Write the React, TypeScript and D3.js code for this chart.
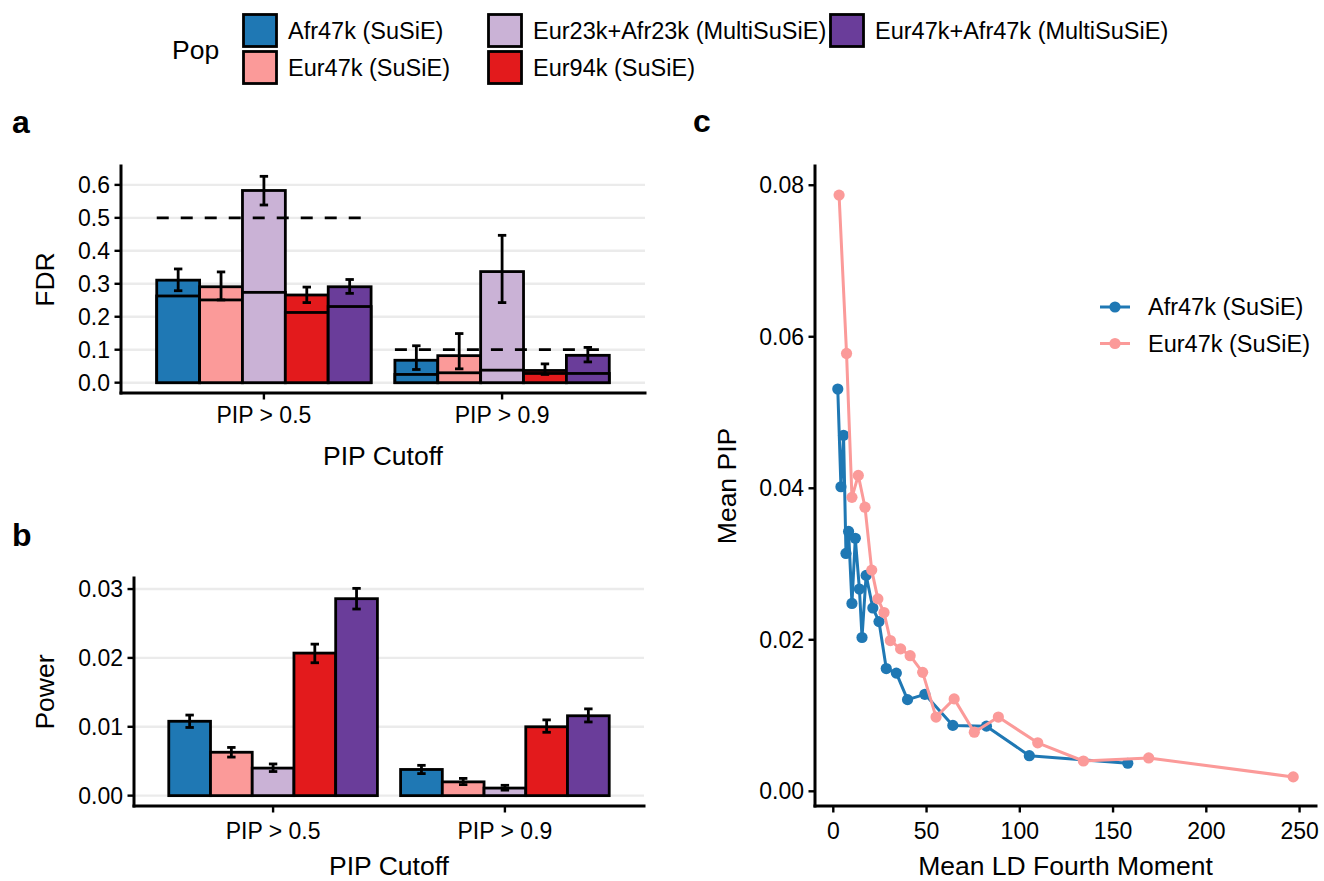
import React from "react";
import * as d3 from "d3";

const FONT = "'Liberation Sans', Arial, Helvetica, sans-serif";

const pops = [
  "Afr47k (SuSiE)",
  "Eur47k (SuSiE)",
  "Eur23k+Afr23k (MultiSuSiE)",
  "Eur94k (SuSiE)",
  "Eur47k+Afr47k (MultiSuSiE)",
];
const popColors = ["#1F78B4", "#FB9A99", "#CAB2D6", "#E31A1C", "#6A3D9A"];
const cutoffs = ["PIP > 0.5", "PIP > 0.9"];
const fdrTargets = [0.5, 0.1];

// FDR (panel a)
const fdrMean05 = [0.311, 0.291, 0.583, 0.266, 0.291];
const fdrInner05 = [0.263, 0.251, 0.274, 0.213, 0.231];
const fdrLo05 = [0.279, 0.251, 0.539, 0.243, 0.271];
const fdrHi05 = [0.345, 0.336, 0.626, 0.29, 0.313];
const fdrMean09 = [0.068, 0.082, 0.337, 0.037, 0.083];
const fdrInner09 = [0.025, 0.03, 0.038, 0.028, 0.028];
const fdrLo09 = [0.04, 0.042, 0.243, 0.025, 0.063];
const fdrHi09 = [0.112, 0.149, 0.447, 0.057, 0.107];
const fdrTicks = [0, 0.1, 0.2, 0.3, 0.4, 0.5, 0.6];

// Power (panel b)
const powMean05 = [0.0108, 0.0063, 0.004, 0.0207, 0.0286];
const powLo05 = [0.0099, 0.0056, 0.0035, 0.0193, 0.0271];
const powHi05 = [0.0117, 0.007, 0.0046, 0.022, 0.0301];
const powMean09 = [0.0038, 0.002, 0.0011, 0.01, 0.0116];
const powLo09 = [0.0032, 0.0016, 0.0008, 0.0092, 0.0107];
const powHi09 = [0.0044, 0.0025, 0.0015, 0.011, 0.0126];
const powTicks = [0, 0.01, 0.02, 0.03];

// Panel c
const afrX = [2.4, 4.1, 5.5, 6.8, 8.2, 10.0, 11.8, 14.0, 15.4, 17.6, 21.2, 24.5, 28.4, 33.8, 39.8, 49.1, 64.1, 82.1, 105.1, 157.9];
const afrY = [0.0531, 0.0402, 0.047, 0.0314, 0.0343, 0.0248, 0.0334, 0.0267, 0.0203, 0.0285, 0.0242, 0.0224, 0.0162, 0.0156, 0.0121, 0.0128, 0.0087, 0.0086, 0.0047, 0.0037];
const eurX = [3.1, 7.1, 10.0, 13.4, 17.0, 20.6, 23.9, 27.2, 30.6, 36.1, 41.2, 47.9, 55.1, 64.8, 75.6, 88.5, 109.6, 134.1, 169.1, 246.6];
const eurY = [0.0787, 0.0578, 0.0388, 0.0417, 0.0375, 0.0292, 0.0254, 0.0236, 0.0199, 0.0188, 0.0179, 0.0157, 0.0098, 0.0122, 0.0078, 0.0098, 0.0064, 0.004, 0.0044, 0.0019];
const cXTicks = [0, 50, 100, 150, 200, 250];
const cYTicks = [0, 0.02, 0.04, 0.06, 0.08];
const cSeries = ["Afr47k (SuSiE)", "Eur47k (SuSiE)"];
const cColors = ["#1F78B4", "#FB9A99"];

const TICK = 23;
const LEG = 23.5;
const TITLE = 26.5;
const LW = 2.8;

type BarProps = {
  left: number; right: number; top: number; bottom: number;
  means: number[][]; inners?: number[][]; los: number[][]; his: number[][];
  targets?: number[]; ticks: number[]; fmt: (v: number) => string;
  yTitle: string; yTitleX: number; labelOff: number; titleOff: number;
};

function BarPanel(p: BarProps) {
  const x = d3.scaleLinear().domain([0.4, 2.6]).range([p.left, p.right]);
  const yMax = d3.max(p.his.flat()) as number;
  const pad = yMax * 0.05;
  const y = d3.scaleLinear().domain([-pad, yMax + pad]).range([p.bottom, p.top]);
  const bw = 0.18;
  const capHalf = 4.2;
  return (
    <g>
      {p.ticks.map((t) => (
        <line key={"g" + t} x1={p.left} x2={p.right} y1={y(t)} y2={y(t)} stroke="#EBEBEB" strokeWidth={2.4} />
      ))}
      {cutoffs.map((c, gi) =>
        pops.map((pop, j) => {
          const x0 = x(gi + 1 + (j - 2.5) * bw);
          const x1 = x(gi + 1 + (j - 1.5) * bw);
          const m = p.means[gi][j];
          return (
            <g key={c + pop}>
              <rect x={x0} y={y(m)} width={x1 - x0} height={y(0) - y(m)} fill={popColors[j]} stroke="#000" strokeWidth={LW} />
              {p.inners && (
                <rect x={x0} y={y(p.inners[gi][j])} width={x1 - x0} height={y(0) - y(p.inners[gi][j])} fill={popColors[j]} stroke="#000" strokeWidth={LW} />
              )}
            </g>
          );
        })
      )}
      {p.targets &&
        p.targets.map((t, gi) => (
          <line key={"d" + gi} x1={x(gi + 1 - 0.45)} x2={x(gi + 1 + 0.45)} y1={y(t)} y2={y(t)} stroke="#000" strokeWidth={LW} strokeDasharray="12,12" />
        ))}
      {cutoffs.map((c, gi) =>
        pops.map((pop, j) => {
          const cx = x(gi + 1 + (j - 2) * bw);
          const lo = y(p.los[gi][j]);
          const hi = y(p.his[gi][j]);
          return (
            <g key={"e" + c + pop} stroke="#000" strokeWidth={LW}>
              <line x1={cx} x2={cx} y1={lo} y2={hi} />
              <line x1={cx - capHalf} x2={cx + capHalf} y1={lo} y2={lo} />
              <line x1={cx - capHalf} x2={cx + capHalf} y1={hi} y2={hi} />
            </g>
          );
        })
      )}
      <line x1={p.left} x2={p.left} y1={p.top} y2={p.bottom} stroke="#000" strokeWidth={3} strokeLinecap="square" />
      <line x1={p.left} x2={p.right} y1={p.bottom} y2={p.bottom} stroke="#000" strokeWidth={3} strokeLinecap="square" />
      {p.ticks.map((t) => (
        <g key={"t" + t}>
          <line x1={p.left - 6.5} x2={p.left} y1={y(t)} y2={y(t)} stroke="#000" strokeWidth={2.4} />
          <text x={p.left - 11} y={y(t)} dy="0.35em" textAnchor="end" fontSize={TICK} fontFamily={FONT} fill="#000">
            {p.fmt(t)}
          </text>
        </g>
      ))}
      {cutoffs.map((c, gi) => (
        <g key={"xt" + c}>
          <line x1={x(gi + 1)} x2={x(gi + 1)} y1={p.bottom} y2={p.bottom + 6.5} stroke="#000" strokeWidth={2.4} />
          <text x={x(gi + 1)} y={p.bottom + p.labelOff} dy="0.35em" textAnchor="middle" fontSize={TICK} fontFamily={FONT} fill="#000">
            {c}
          </text>
        </g>
      ))}
      <text x={(p.left + p.right) / 2} y={p.bottom + p.titleOff} dy="0.35em" textAnchor="middle" fontSize={TITLE} fontFamily={FONT} fill="#000">
        PIP Cutoff
      </text>
      <text transform={`translate(${p.yTitleX},${(p.top + p.bottom) / 2}) rotate(-90)`} dy="0.35em" textAnchor="middle" fontSize={TITLE} fontFamily={FONT} fill="#000">
        {p.yTitle}
      </text>
    </g>
  );
}

function LinePanel() {
  const left = 815, right = 1316, top = 166, bottom = 806;
  const allX = afrX.concat(eurX);
  const allY = afrY.concat(eurY);
  const [xmin, xmax] = d3.extent(allX) as [number, number];
  const [ymin, ymax] = d3.extent(allY) as [number, number];
  const xp = (xmax - xmin) * 0.05;
  const yp = (ymax - ymin) * 0.05;
  const x = d3.scaleLinear().domain([xmin - xp, xmax + xp]).range([left, right]);
  const y = d3.scaleLinear().domain([ymin - yp, ymax + yp]).range([bottom, top]);
  const line = d3.line<[number, number]>().x((d) => x(d[0])).y((d) => y(d[1]));
  const series = [
    afrX.map((v, i) => [v, afrY[i]] as [number, number]),
    eurX.map((v, i) => [v, eurY[i]] as [number, number]),
  ];
  return (
    <g>
      {series.map((s, si) => (
        <g key={"s" + si}>
          <path d={line(s.slice().sort((a, b) => a[0] - b[0])) || ""} fill="none" stroke={cColors[si]} strokeWidth={3} strokeLinejoin="round" />
          {s.map((d, i) => (
            <circle key={i} cx={x(d[0])} cy={y(d[1])} r={5.6} fill={cColors[si]} />
          ))}
        </g>
      ))}
      <line x1={left} x2={left} y1={top} y2={bottom} stroke="#000" strokeWidth={3} strokeLinecap="square" />
      <line x1={left} x2={right} y1={bottom} y2={bottom} stroke="#000" strokeWidth={3} strokeLinecap="square" />
      {cYTicks.map((t) => (
        <g key={"y" + t}>
          <line x1={left - 6.5} x2={left} y1={y(t)} y2={y(t)} stroke="#000" strokeWidth={2.4} />
          <text x={left - 11} y={y(t)} dy="0.35em" textAnchor="end" fontSize={TICK} fontFamily={FONT} fill="#000">
            {d3.format(".2f")(t)}
          </text>
        </g>
      ))}
      {cXTicks.map((t) => (
        <g key={"x" + t}>
          <line x1={x(t)} x2={x(t)} y1={bottom} y2={bottom + 6.5} stroke="#000" strokeWidth={2.4} />
          <text x={x(t)} y={bottom + 25} dy="0.35em" textAnchor="middle" fontSize={TICK} fontFamily={FONT} fill="#000">
            {t}
          </text>
        </g>
      ))}
      <text x={(left + right) / 2} y={bottom + 60} dy="0.35em" textAnchor="middle" fontSize={TITLE} fontFamily={FONT} fill="#000">
        Mean LD Fourth Moment
      </text>
      <text transform={`translate(727,${(top + bottom) / 2}) rotate(-90)`} dy="0.35em" textAnchor="middle" fontSize={TITLE} fontFamily={FONT} fill="#000">
        Mean PIP
      </text>
      {cSeries.map((name, i) => {
        const ly = 307 + i * 36.5;
        return (
          <g key={name}>
            <line x1={1100} x2={1130} y1={ly} y2={ly} stroke={cColors[i]} strokeWidth={3} />
            <circle cx={1115} cy={ly} r={5.6} fill={cColors[i]} />
            <text x={1148} y={ly} dy="0.35em" fontSize={LEG} fontFamily={FONT} fill="#000">
              {name}
            </text>
          </g>
        );
      })}
    </g>
  );
}

function TopLegend() {
  const colX = [242, 487, 829];
  const rowY = [13, 50];
  return (
    <g>
      <text x={172} y={50} dy="0.35em" fontSize={TITLE} fontFamily={FONT} fill="#000">
        Pop
      </text>
      {pops.map((pop, i) => {
        const col = Math.floor(i / 2);
        const row = i % 2;
        const kx = colX[col];
        const ky = rowY[row];
        return (
          <g key={pop}>
            <rect x={kx + 1.5} y={ky + 1.5} width={33} height={32} fill={popColors[i]} stroke="#000" strokeWidth={LW} />
            <text x={kx + 46} y={ky + 18} dy="0.35em" fontSize={LEG} fontFamily={FONT} fill="#000">
              {pop}
            </text>
          </g>
        );
      })}
    </g>
  );
}

export default function App() {
  return (
    <svg width={1324} height={881} style={{ position: "absolute", left: 0, top: 0, background: "#fff" }}>
      <rect width={1324} height={881} fill="#fff" />
      <TopLegend />
      <text x={12} y={133} fontSize={32} fontWeight="bold" fontFamily={FONT}>a</text>
      <text x={12} y={546} fontSize={32} fontWeight="bold" fontFamily={FONT}>b</text>
      <text x={693} y={132} fontSize={32} fontWeight="bold" fontFamily={FONT}>c</text>
      <BarPanel
        left={121} right={645} top={166} bottom={393}
        means={[fdrMean05, fdrMean09]} inners={[fdrInner05, fdrInner09]}
        los={[fdrLo05, fdrLo09]} his={[fdrHi05, fdrHi09]}
        targets={fdrTargets} ticks={fdrTicks} fmt={d3.format(".1f")}
        yTitle="FDR" yTitleX={45} labelOff={22} titleOff={63}
      />
      <BarPanel
        left={134} right={644} top={578} bottom={806}
        means={[powMean05, powMean09]}
        los={[powLo05, powLo09]} his={[powHi05, powHi09]}
        ticks={powTicks} fmt={d3.format(".2f")}
        yTitle="Power" yTitleX={45} labelOff={25} titleOff={60}
      />
      <LinePanel />
    </svg>
  );
}
